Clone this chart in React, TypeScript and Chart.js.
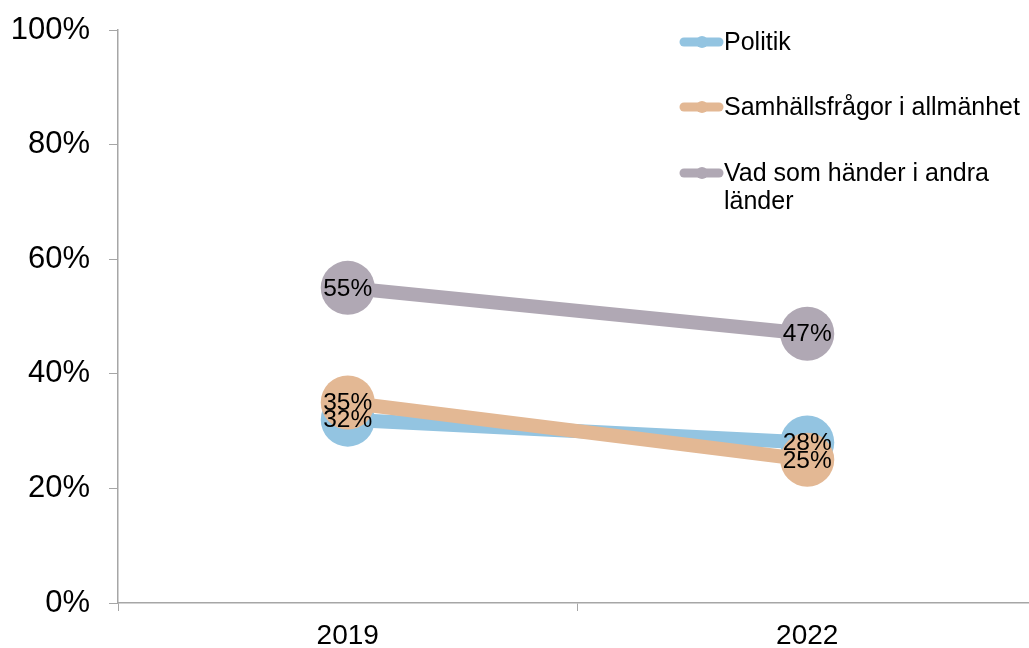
import React, { useEffect, useRef } from "react";
import { Chart, registerables } from "chart.js";

Chart.register(...registerables);

const categories = ["2019", "2022"];
const seriesNames = ["Politik", "Samhällsfrågor i allmänhet", "Vad som händer i andra länder"];
const legendLines = [["Politik"], ["Samhällsfrågor i allmänhet"], ["Vad som händer i andra", "länder"]];
const politik = [32, 28];
const samhall = [35, 25];
const andraLander = [55, 47];
const yTicks = [0, 20, 40, 60, 80, 100];
const colors = ["#93C4E1", "#E3B894", "#B0A8B4"];

const FONT = "'Liberation Sans', Arial, Helvetica, sans-serif";

export default function App() {
  const ref = useRef<HTMLCanvasElement | null>(null);

  useEffect(() => {
    const canvas = ref.current;
    if (!canvas) return;

    const labelsPlugin = {
      id: "pointLabels",
      afterDatasetsDraw(chart: any) {
        const ctx = chart.ctx;
        ctx.save();
        ctx.font = `24.5px ${FONT}`;
        ctx.fillStyle = "#000";
        ctx.textAlign = "center";
        ctx.textBaseline = "middle";
        chart.data.datasets.forEach((ds: any, i: number) => {
          const meta = chart.getDatasetMeta(i);
          meta.data.forEach((pt: any, j: number) => {
            ctx.fillText(ds.data[j] + "%", pt.x, pt.y + 1);
          });
        });
        ctx.restore();
      },
    };

    const legendPlugin = {
      id: "customLegend",
      afterDraw(chart: any) {
        const ctx = chart.ctx;
        ctx.save();
        const ys = [42, 107, 173];
        legendLines.forEach((lines, i) => {
          const y = ys[i];
          ctx.strokeStyle = colors[i];
          ctx.lineWidth = 9;
          ctx.lineCap = "round";
          ctx.beginPath();
          ctx.moveTo(684, y);
          ctx.lineTo(719, y);
          ctx.stroke();
          ctx.fillStyle = colors[i];
          ctx.beginPath();
          ctx.arc(702, y, 6, 0, Math.PI * 2);
          ctx.fill();
          ctx.fillStyle = "#000";
          ctx.font = `25px ${FONT}`;
          ctx.textAlign = "left";
          ctx.textBaseline = "middle";
          lines.forEach((t, k) => ctx.fillText(t, 724, y + 1 + k * 28));
        });
        ctx.restore();
      },
    };

    const chart = new Chart(canvas, {
      type: "line",
      data: {
        labels: categories,
        datasets: [
          { label: seriesNames[0], data: politik, order: 2 },
          { label: seriesNames[1], data: samhall, order: 1 },
          { label: seriesNames[2], data: andraLander, order: 0 },
        ].map((d, i) => ({
          ...d,
          borderColor: colors[i],
          backgroundColor: colors[i],
          pointBackgroundColor: colors[i],
          pointBorderColor: colors[i],
          pointBorderWidth: 0,
          pointRadius: 27,
          pointHoverRadius: 27,
          borderWidth: 14,
          tension: 0,
          fill: false,
          clip: false as any,
        })),
      },
      options: {
        responsive: false,
        animation: false,
        layout: { autoPadding: false, padding: { top: 30, left: 0, right: 0, bottom: 0 } },
        plugins: {
          legend: { display: false },
          tooltip: { enabled: false },
          title: { display: false },
        },
        scales: {
          x: {
            offset: true,
            grid: {
              offset: true,
              drawOnChartArea: false,
              drawTicks: true,
              tickLength: 8,
              color: "#A6A6A6",
              lineWidth: 1,
            },
            border: { display: true, color: "#A6A6A6", width: 1.5 },
            ticks: {
              color: "#000",
              font: { family: FONT, size: 28 },
              padding: 8,
              maxRotation: 0,
            },
            afterFit(scale: any) {
              scale.height = 45;
              scale.paddingLeft = 0;
              scale.paddingRight = 0;
            },
          },
          y: {
            min: 0,
            max: 100,
            afterBuildTicks(scale: any) {
              scale.ticks = yTicks.map((v) => ({ value: v }));
            },
            grid: {
              drawOnChartArea: false,
              drawTicks: true,
              tickLength: 9,
              color: "#A6A6A6",
              lineWidth: 1,
            },
            border: { display: true, color: "#A6A6A6", width: 1.5 },
            ticks: {
              color: "#000",
              font: { family: FONT, size: 31 },
              padding: 19,
              callback: (v: any) => v + "%",
            },
            afterFit(scale: any) {
              scale.width = 118;
              scale.paddingTop = 0;
              scale.paddingBottom = 0;
            },
          },
        },
      },
      plugins: [labelsPlugin, legendPlugin],
    });

    return () => chart.destroy();
  }, []);

  return (
    <div
      style={{
        position: "absolute",
        left: 0,
        top: 0,
        width: 1029,
        height: 648,
        overflow: "hidden",
        background: "#fff",
      }}
    >
      <canvas ref={ref} width={1037} height={648} style={{ display: "block" }} />
    </div>
  );
}
